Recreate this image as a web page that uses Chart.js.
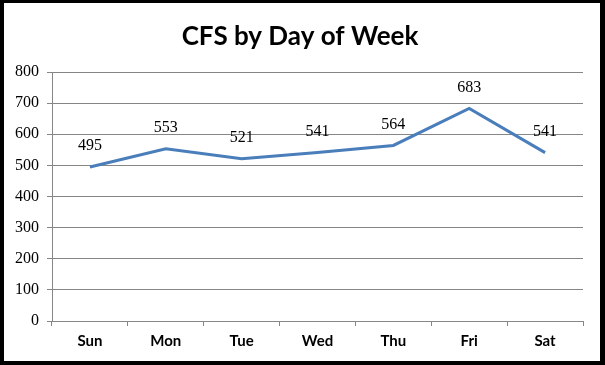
<!DOCTYPE html>
<html lang="en">
<head>
    <meta charset="UTF-8">
    <title>CFS by Day of Week</title>
    <script src="https://cdn.jsdelivr.net/npm/chart.js"></script>
    <style>
        html, body {
            margin: 0;
            padding: 0;
            background: #ffffff;
        }
        .frame {
            position: relative;
            width: 605px;
            height: 365px;
        }
        .frame canvas {
            position: absolute;
            left: 0;
            top: 0;
        }
        /* black frame around the chart, like the spreadsheet export */
        .frame .edge {
            position: absolute;
            left: 0;
            top: 0;
            width: 605px;
            height: 365px;
            box-sizing: border-box;
            border-top: 3px solid #000;
            border-left: 4px solid #000;
            border-right: 5px solid #000;
            border-bottom: 4px solid #000;
            pointer-events: none;
        }
    </style>
</head>
<body>
    <div class="frame">
        <canvas id="cfsChart" width="605" height="365"></canvas>
        <div class="edge"></div>
    </div>

    <script>
        // Dados do gráfico
        const chartTitle = 'CFS by Day of Week';
        const days = ['Sun', 'Mon', 'Tue', 'Wed', 'Thu', 'Fri', 'Sat'];
        const cfsCounts = [495, 553, 521, 541, 564, 683, 541];
        const yTicks = [0, 100, 200, 300, 400, 500, 600, 700, 800];

        const gridGray = '#868686';
        const lineBlue = '#4a7ebb';

        // Título desenhado à mão, centrado na moldura inteira
        const frameTitle = {
            id: 'frameTitle',
            afterDraw(chart) {
                const ctx = chart.ctx;
                ctx.save();
                ctx.font = 'bold 26px Lato, sans-serif';
                ctx.fillStyle = '#000';
                ctx.textAlign = 'center';
                ctx.textBaseline = 'middle';
                ctx.fillText(chartTitle, 300, 37);
                ctx.restore();
            }
        };

        // Rótulos de valor acima de cada ponto
        const valueLabels = {
            id: 'valueLabels',
            afterDatasetsDraw(chart) {
                const ctx = chart.ctx;
                const meta = chart.getDatasetMeta(0);
                ctx.save();
                ctx.font = '16px "Liberation Serif", serif';
                ctx.fillStyle = '#000';
                ctx.textAlign = 'center';
                ctx.textBaseline = 'middle';
                meta.data.forEach((pt, i) => {
                    ctx.fillText(String(cfsCounts[i]), pt.x, pt.y - 21);
                });
                ctx.restore();
            }
        };

        new Chart(document.getElementById('cfsChart'), {
            type: 'line',
            data: {
                labels: days,
                datasets: [{
                    data: cfsCounts,
                    borderColor: lineBlue,
                    borderWidth: 3,
                    tension: 0,
                    pointRadius: 0,
                    fill: false
                }]
            },
            options: {
                responsive: false,
                animation: false,
                layout: { padding: { left: 0, right: 22, top: 72, bottom: 9 } },
                plugins: {
                    legend: { display: false },
                    tooltip: { enabled: false },
                    title: { display: false }
                },
                scales: {
                    x: {
                        offset: true,
                        grid: {
                            offset: true,
                            drawOnChartArea: false,
                            drawTicks: true,
                            tickLength: 5,
                            color: gridGray
                        },
                        border: { display: true, color: gridGray },
                        ticks: {
                            color: '#000',
                            padding: 6,
                            font: { family: 'Lato', size: 15, weight: 'bold' }
                        }
                    },
                    y: {
                        min: 0,
                        max: 800,
                        afterBuildTicks(scale) {
                            scale.ticks = yTicks.map(v => ({ value: v }));
                        },
                        afterFit(scale) {
                            scale.width = 52;
                        },
                        grid: {
                            color: gridGray,
                            drawTicks: true,
                            tickLength: 5
                        },
                        border: { display: true, color: gridGray },
                        ticks: {
                            color: '#000',
                            padding: 8,
                            font: { family: 'Liberation Serif', size: 16 }
                        }
                    }
                }
            },
            plugins: [valueLabels, frameTitle]
        });
    </script>
</body>
</html>
